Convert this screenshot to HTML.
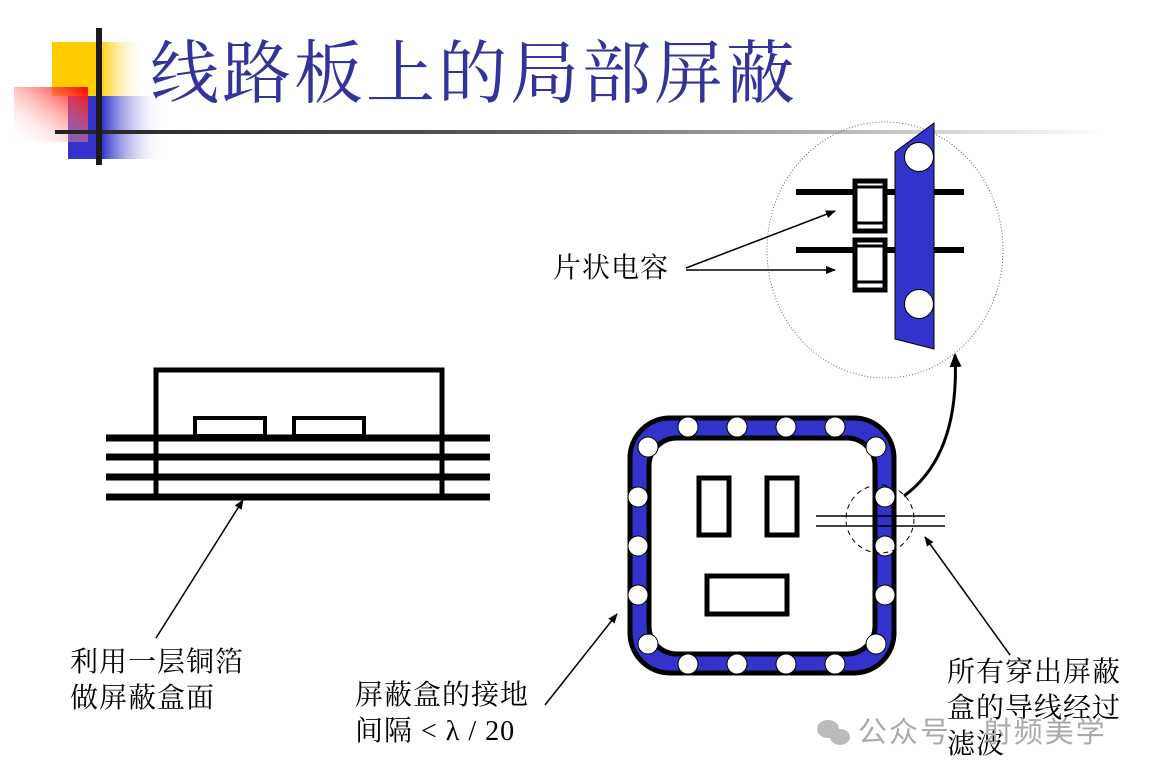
<!DOCTYPE html>
<html><head><meta charset="utf-8"><style>
html,body{margin:0;padding:0;background:#fff;}
body{width:1152px;height:777px;position:relative;overflow:hidden;font-family:"Liberation Serif","Noto Serif CJK SC",serif;}
.t{position:absolute;font-size:28px;color:#000;line-height:36px;white-space:nowrap;letter-spacing:1px;}
</style></head><body>
<svg width="1152" height="777" style="position:absolute;left:0;top:0">
<defs>
<linearGradient id="gy" x1="0" x2="1"><stop offset="0.5" stop-color="#ffcc00"/><stop offset="1" stop-color="#fff" stop-opacity="0"/></linearGradient>
<linearGradient id="gb" x1="0" x2="1"><stop offset="0.35" stop-color="#3333cc"/><stop offset="1" stop-color="#fff" stop-opacity="0"/></linearGradient>
<linearGradient id="gr" x1="1" y1="0" x2="0" y2="1"><stop offset="0" stop-color="#ff0000"/><stop offset="1" stop-color="#fff" stop-opacity="0"/></linearGradient>
<linearGradient id="gl" x1="0" x2="1"><stop offset="0" stop-color="#222"/><stop offset="0.4" stop-color="#555"/><stop offset="1" stop-color="#fff"/></linearGradient>
<marker id="a" markerWidth="10" markerHeight="8" refX="9" refY="4" orient="auto" markerUnits="userSpaceOnUse"><path d="M0,0 L10,4 L0,8 Z" fill="#000"/></marker>
<marker id="a2" markerWidth="14" markerHeight="12" refX="12" refY="6" orient="auto" markerUnits="userSpaceOnUse"><path d="M0,0 L14,6 L0,12 Z" fill="#000"/></marker>
</defs>
<rect x="52" y="42" width="95" height="54" fill="url(#gy)"/>
<rect x="68" y="96" width="97" height="63" fill="url(#gb)"/>
<rect x="14" y="87" width="74" height="55" fill="url(#gr)"/>
<rect x="55" y="130" width="1050" height="4" fill="url(#gl)"/>
<rect x="96" y="28" width="6" height="137" fill="#1a1a1a"/>

<g stroke="#000" fill="none">
<rect x="156" y="370" width="286" height="127" stroke-width="5"/>
<rect x="195" y="418" width="70" height="18" stroke-width="4"/>
<rect x="294" y="418" width="70" height="18" stroke-width="4"/>
<g stroke-width="7"><line x1="106" y1="438" x2="490" y2="438"/><line x1="106" y1="457" x2="490" y2="457"/><line x1="106" y1="477" x2="490" y2="477"/><line x1="106" y1="497" x2="490" y2="497"/></g>
<line x1="156" y1="638" x2="243" y2="500" stroke-width="1.5" marker-end="url(#a)"/>
</g>

<rect x="630" y="418" width="264" height="255" rx="40" fill="#3333cc" stroke="#000" stroke-width="5"/>
<rect x="649" y="438" width="226" height="216" rx="28" fill="#fff" stroke="#000" stroke-width="5"/>
<g fill="#fff" stroke="#000" stroke-width="1">
<circle cx="688" cy="427" r="10"/><circle cx="737" cy="427" r="10"/><circle cx="786" cy="427" r="10"/><circle cx="835" cy="427" r="10"/>
<circle cx="688" cy="664" r="10"/><circle cx="737" cy="664" r="10"/><circle cx="786" cy="664" r="10"/><circle cx="835" cy="664" r="10"/>
<circle cx="648" cy="447" r="10"/><circle cx="876" cy="447" r="10"/><circle cx="648" cy="644" r="10"/><circle cx="876" cy="644" r="10"/>
<circle cx="638" cy="497" r="10"/><circle cx="638" cy="546" r="10"/><circle cx="638" cy="595" r="10"/>
<circle cx="885" cy="497" r="10"/><circle cx="885" cy="546" r="10"/><circle cx="885" cy="595" r="10"/>
</g>
<g fill="none" stroke="#000" stroke-width="5">
<rect x="699" y="478" width="30" height="57"/><rect x="767" y="478" width="30" height="57"/><rect x="707" y="576" width="80" height="38"/>
</g>
<circle cx="880" cy="519" r="34" fill="none" stroke="#000" stroke-width="1" stroke-dasharray="5,4"/>
<line x1="816" y1="516" x2="945" y2="516" stroke="#000" stroke-width="1.5"/>
<line x1="816" y1="526" x2="945" y2="526" stroke="#000" stroke-width="1.5"/>
<path d="M904,496 Q960,455 955,355" fill="none" stroke="#000" stroke-width="3" marker-end="url(#a2)"/>
<line x1="1010" y1="655" x2="925" y2="537" stroke="#000" stroke-width="1.5" marker-end="url(#a)"/>
<line x1="545" y1="705" x2="617" y2="614" stroke="#000" stroke-width="1.5" marker-end="url(#a)"/>

<ellipse cx="885" cy="250" rx="118" ry="128" fill="none" stroke="#666" stroke-width="1" stroke-dasharray="1,2"/>
<g stroke="#000" stroke-width="6"><line x1="796" y1="192" x2="964" y2="192"/><line x1="796" y1="250" x2="964" y2="250"/></g>
<polygon points="895,152 934,123 934,349 895,339" fill="#3333cc" stroke="#000" stroke-width="1"/>
<circle cx="919" cy="157" r="14.5" fill="#fff" stroke="#000" stroke-width="1"/>
<circle cx="919" cy="304" r="14.5" fill="#fff" stroke="#000" stroke-width="1"/>
<g fill="#fff" stroke="#000" stroke-width="5">
<rect x="855" y="181" width="30" height="50"/><rect x="855" y="240" width="30" height="50"/>
</g>
<g stroke="#000" stroke-width="3"><line x1="855" y1="187" x2="885" y2="187"/><line x1="855" y1="223" x2="885" y2="223"/><line x1="855" y1="246" x2="885" y2="246"/><line x1="855" y1="282" x2="885" y2="282"/></g>
<line x1="686" y1="268" x2="835" y2="211" stroke="#000" stroke-width="1.5" marker-end="url(#a)"/>
<line x1="686" y1="270" x2="835" y2="270" stroke="#000" stroke-width="1.5" marker-end="url(#a)"/>
<g fill="#bbb"><ellipse cx="828" cy="729" rx="11" ry="9"/><ellipse cx="840" cy="737" rx="10" ry="8"/></g>
</svg>

<div class="t" style="left:150px;top:34px;font-size:69px;line-height:80px;color:#333399;letter-spacing:3px;">线路板上的局部屏蔽</div>
<div class="t" style="left:553px;top:251px;">片状电容</div>
<div class="t" style="left:70px;top:645px;">利用一层铜箔<br>做屏蔽盒面</div>
<div class="t" style="left:355px;top:678px;">屏蔽盒的接地<br>间隔 &lt; λ / 20</div>
<div class="t" style="left:947px;top:655px;">所有穿出屏蔽<br>盒的导线经过<br>滤波</div>
<div class="t" style="left:858px;top:715px;font-family:'Liberation Sans','Noto Sans CJK SC',sans-serif;font-size:29px;color:#aaa;letter-spacing:2px;">公众号 · 射频美学</div>
</body></html>
